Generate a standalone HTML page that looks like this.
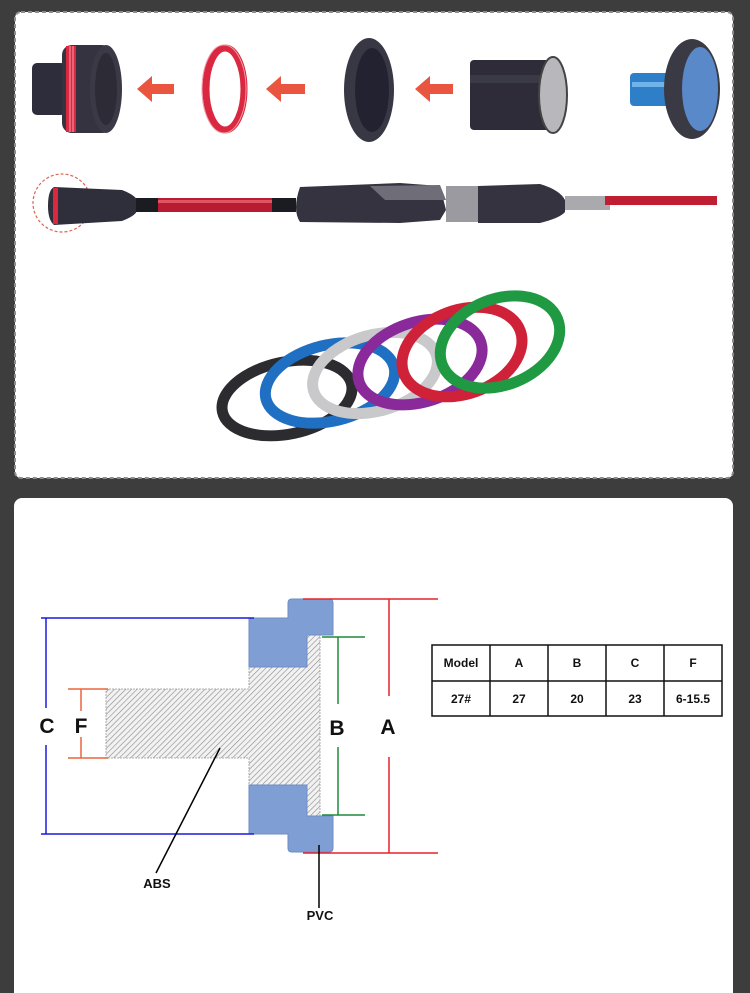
<!DOCTYPE html>
<html><head><meta charset="utf-8"><style>
html,body{margin:0;padding:0;background:#3d3d3d;}
body{width:750px;height:993px;overflow:hidden;position:relative;font-family:"Liberation Sans",Arial,sans-serif;}
svg{position:absolute;left:0;top:0;}
</style></head><body>
<svg width="750" height="993" viewBox="0 0 750 993" xmlns="http://www.w3.org/2000/svg">
<defs>
<pattern id="hat" width="4" height="4" patternUnits="userSpaceOnUse" patternTransform="rotate(45)">
<rect width="4" height="4" fill="#f2f2f2"/><line x1="0" y1="0" x2="0" y2="4" stroke="#8a8a8a" stroke-width="1.2"/>
</pattern>
</defs>
<rect x="0" y="0" width="750" height="993" fill="#3d3d3d"/>
<!-- top panel -->
<rect x="15" y="12" width="718" height="466" rx="6" fill="#fff" stroke="#8c8c8c" stroke-width="2" stroke-dasharray="4 3"/>
<!-- item1 -->
<rect x="32" y="63" width="34" height="52" rx="5" fill="#2e2d3c"/>
<rect x="62" y="45" width="50" height="88" rx="10" fill="#34333f"/>
<rect x="66" y="46" width="10" height="86" fill="#d9283f"/>
<line x1="70" y1="46" x2="70" y2="132" stroke="#f6a0ad" stroke-width="1"/>
<line x1="73" y1="46" x2="73" y2="132" stroke="#f6a0ad" stroke-width="1"/>
<ellipse cx="106" cy="89" rx="16" ry="44" fill="#3a3945"/>
<ellipse cx="106" cy="89" rx="11" ry="36" fill="#2c2b36"/>
<!-- arrows -->
<g fill="#ea5540">
<polygon points="137,89 152,76 152,84 174,84 174,94 152,94 152,102"/>
<polygon points="266,89 281,76 281,84 305,84 305,94 281,94 281,102"/>
<polygon points="415,89 430,76 430,84 453,84 453,94 430,94 430,102"/>
</g>
<!-- red ring -->
<ellipse cx="225" cy="89" rx="19" ry="41" fill="none" stroke="#d9283f" stroke-width="7"/>
<ellipse cx="224" cy="89" rx="22" ry="44" fill="none" stroke="#f39aa8" stroke-width="1"/>
<!-- dark ring -->
<ellipse cx="369" cy="90" rx="25" ry="52" fill="#383744"/>
<ellipse cx="372" cy="90" rx="17" ry="42" fill="#232230"/>
<!-- cylinder -->
<rect x="470" y="60" width="84" height="70" rx="4" fill="#2d2c38"/>
<rect x="470" y="75" width="84" height="8" fill="#3a3946"/>
<ellipse cx="553" cy="95" rx="14" ry="38" fill="#b8b8bc" stroke="#444" stroke-width="2"/>
<!-- blue cap -->
<rect x="630" y="73" width="40" height="33" rx="4" fill="#2f7fc8"/>
<rect x="632" y="82" width="36" height="5" fill="#6fb3ea"/>
<ellipse cx="692" cy="89" rx="28" ry="50" fill="#3a3a44"/>
<ellipse cx="700" cy="89" rx="18" ry="42" fill="#5a89c9"/>
<!-- rod -->
<circle cx="62" cy="203" r="29" fill="none" stroke="#e0634f" stroke-width="1.2" stroke-dasharray="3 2"/>
<path d="M54,187 L122,190 Q135,195 137,200 L137,211 Q135,216 122,221 L54,225 Q48,220 48,206 Q48,190 54,187Z" fill="#2f2e3b"/>
<rect x="53" y="188" width="5" height="36" fill="#d9283f"/>
<rect x="136" y="198" width="160" height="14" fill="#b81c30"/>
<rect x="136" y="200" width="160" height="3" fill="#e15464"/>
<rect x="136" y="198" width="22" height="14" fill="#1b1b22"/>
<rect x="272" y="198" width="24" height="14" fill="#1b1b22"/>
<path d="M300,187 L400,183 L440,186 L446,210 L440,220 L400,223 L300,222 Q292,210 300,187Z" fill="#34333f"/>
<path d="M370,186 L440,185 L446,200 L385,200Z" fill="#6e6d78"/>
<rect x="446" y="186" width="32" height="36" fill="#9a9aa0"/>
<path d="M478,186 L540,184 Q560,190 565,200 L565,212 Q560,218 540,223 L478,223Z" fill="#34333f"/>
<rect x="565" y="196" width="45" height="14" fill="#a9a9ae"/>
<rect x="605" y="196" width="112" height="9" fill="#c01f33"/>
<!-- rings -->
<g fill="none" stroke-width="11">
<ellipse cx="287" cy="398" rx="66" ry="36" transform="rotate(-12 287 398)" stroke="#2b2b30"/>
<ellipse cx="330" cy="383" rx="66" ry="38" transform="rotate(-14 330 383)" stroke="#1f6fc2"/>
<ellipse cx="375" cy="373" rx="64" ry="38" transform="rotate(-16 375 373)" stroke="#c9c9cc"/>
<ellipse cx="420" cy="362" rx="64" ry="40" transform="rotate(-18 420 362)" stroke="#8a2a9a"/>
<ellipse cx="462" cy="352" rx="62" ry="42" transform="rotate(-20 462 352)" stroke="#cf2238"/>
<ellipse cx="500" cy="342" rx="62" ry="43" transform="rotate(-22 500 342)" stroke="#1f9a42"/>
</g>
<!-- bottom panel -->
<rect x="14" y="498" width="719" height="510" rx="8" fill="#fff"/>
<!-- shapes -->
<polygon points="106,689 249,689 249,667 307,667 307,635 320,635 320,816 307,816 307,785 249,785 249,758 106,758" fill="url(#hat)" stroke="#999" stroke-width="0.8" stroke-dasharray="2 1"/>
<path d="M292,599 L329,599 Q333,599 333,603 L333,635 L307,635 L307,667 L249,667 L249,618 L288,618 L288,603 Q288,599 292,599Z" fill="#7f9fd4" stroke="#6d8dc6" stroke-width="1"/>
<path d="M249,785 L307,785 L307,816 L333,816 L333,848 Q333,852 329,852 L292,852 Q288,852 288,848 L288,834 L249,834Z" fill="#7f9fd4" stroke="#6d8dc6" stroke-width="1"/>
<!-- dimension lines -->
<g stroke="#1a1ae0" stroke-width="1.5" fill="none">
<line x1="41" y1="618" x2="254" y2="618"/><line x1="41" y1="834" x2="254" y2="834"/>
<line x1="46" y1="618" x2="46" y2="708"/><line x1="46" y1="745" x2="46" y2="834"/>
</g>
<g stroke="#e8663c" stroke-width="1.5">
<line x1="68" y1="689" x2="108" y2="689"/><line x1="68" y1="758" x2="108" y2="758"/>
<line x1="81" y1="689" x2="81" y2="711"/><line x1="81" y1="737" x2="81" y2="758"/>
</g>
<g stroke="#e8202a" stroke-width="1.5">
<line x1="303" y1="599" x2="438" y2="599"/><line x1="303" y1="853" x2="438" y2="853"/>
<line x1="389" y1="599" x2="389" y2="696"/><line x1="389" y1="757" x2="389" y2="853"/>
</g>
<g stroke="#1e8a3a" stroke-width="1.5">
<line x1="322" y1="637" x2="365" y2="637"/><line x1="322" y1="815" x2="365" y2="815"/>
<line x1="338" y1="637" x2="338" y2="704"/><line x1="338" y1="747" x2="338" y2="815"/>
</g>
<g stroke="#000" stroke-width="1.5">
<line x1="220" y1="748" x2="156" y2="873"/>
<line x1="319" y1="845" x2="319" y2="908"/>
</g>
<g font-family="Liberation Sans,Arial,sans-serif" font-weight="bold" fill="#111" text-anchor="middle">
<text x="47" y="733" font-size="21">C</text>
<text x="81" y="733" font-size="21">F</text>
<text x="337" y="735" font-size="21">B</text>
<text x="388" y="734" font-size="21">A</text>
<text x="157" y="888" font-size="13">ABS</text>
<text x="320" y="920" font-size="13">PVC</text>
</g>
<!-- table -->
<g stroke="#111" stroke-width="1.5" fill="none">
<rect x="432" y="645" width="290" height="71"/>
<line x1="432" y1="681" x2="722" y2="681"/>
<line x1="490" y1="645" x2="490" y2="716"/><line x1="548" y1="645" x2="548" y2="716"/>
<line x1="606" y1="645" x2="606" y2="716"/><line x1="664" y1="645" x2="664" y2="716"/>
</g>
<g font-family="Liberation Sans,Arial,sans-serif" font-weight="bold" fill="#111" text-anchor="middle" font-size="12">
<text x="461" y="667">Model</text><text x="519" y="667">A</text><text x="577" y="667">B</text><text x="635" y="667">C</text><text x="693" y="667">F</text>
<text x="461" y="703">27#</text><text x="519" y="703">27</text><text x="577" y="703">20</text><text x="635" y="703">23</text><text x="693" y="703">6-15.5</text>
</g>
</svg>
</body></html>
